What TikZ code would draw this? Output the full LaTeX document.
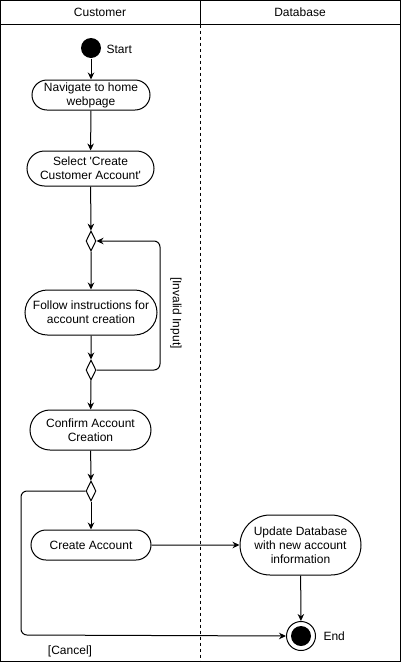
\documentclass[tikz,border=0pt]{standalone}
\usepackage{fontspec}
\setmainfont{Liberation Sans}
\usetikzlibrary{arrows.meta,shapes.geometric,shapes.misc}
\begin{document}
\begin{tikzpicture}[x=1pt,y=-1pt,
  font=\fontsize{12}{14}\selectfont,
  line width=1pt,
  act/.style={draw,rounded rectangle,align=center,inner sep=0pt},
  dec/.style={draw,diamond,minimum width=10pt,minimum height=20pt,inner sep=0pt,aspect=0.5},
  flow/.style={-{Stealth[length=7pt,width=6.5pt]}},
  lbl/.style={inner sep=1pt}]
\useasboundingbox (0,0) rectangle (401,662);
% frame
\draw (0.5,0.5) rectangle (400.5,661.5);
\draw (0.5,24.5) -- (400.5,24.5);
\draw (200.5,0.5) -- (200.5,24.5);
\draw[dash pattern=on 3pt off 3pt] (200.5,24.5) -- (200.5,661.5);
\node (h1) at (100,12) {Customer};
\node (h2) at (300,12) {Database};
% nodes
\node[circle,fill=black,minimum size=20pt,inner sep=0pt] (start) at (91,48) {};
\node[lbl,anchor=west] (startl) at (105,49) {Start};
\node[act,minimum width=118pt,minimum height=30pt] (nav) at (91,95) {Navigate to home\\webpage};
\node[act,minimum width=127pt,minimum height=35pt] (sel) at (90.5,168.5) {Select \textquotesingle Create\\Customer Account\textquotesingle};
\node[dec] (d1) at (91,241) {};
\node[act,minimum width=132pt,minimum height=45pt] (fol) at (91,312.5) {Follow instructions for\\account creation};
\node[dec] (d2) at (91,370) {};
\node[act,minimum width=121pt,minimum height=40pt] (con) at (90.5,430) {Confirm Account\\Creation};
\node[dec] (d3) at (91,491) {};
\node[act,minimum width=120pt,minimum height=30pt] (cre) at (91,545) {Create Account};
\node[act,minimum width=121pt,minimum height=60pt] (upd) at (300.5,545) {Update Database\\with new account\\information};
\node[circle,draw,minimum size=29pt,inner sep=0pt] (endo) at (301,636) {};
\node[circle,fill=black,minimum size=20pt,inner sep=0pt] (endi) at (301,636) {};
\node[lbl,anchor=west] (endl) at (322,636) {End};
\node[lbl,rotate=-90] (inv) at (176,313) {[Invalid Input]};
\node[lbl] (can) at (70,651) {[Cancel]};
% edges
\draw[flow] (start) -- (nav);
\draw[flow] (nav) -- (sel);
\draw[flow] (sel) -- (d1);
\draw[flow] (d1) -- (fol);
\draw[flow] (fol) -- (d2);
\draw[flow] (d2) -- (con);
\draw[flow] (con) -- (d3);
\draw[flow] (d3) -- (cre);
\draw[flow] (cre) -- (upd);
\draw[flow] (upd) -- (endo);
\draw[flow,rounded corners=6pt] (d2.east) -- (160,370) -- (160,241) -- (d1.east);
\draw[flow,rounded corners=6pt] (d3.west) -- (21,491) -- (21,635) -- (endo.west);
\end{tikzpicture}
\end{document}
